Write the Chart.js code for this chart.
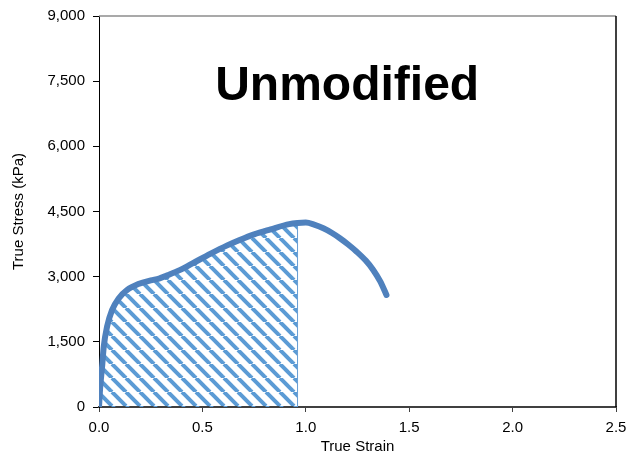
<!DOCTYPE html>
<html lang="en">
<head>
    <meta charset="UTF-8">
    <title>True Stress vs True Strain</title>
    <script src="https://cdn.jsdelivr.net/npm/chart.js"></script>
    <style>
        body { margin: 0; background: #fff; overflow: hidden; }
        canvas { display: block; }
    </style>
</head>
<body>
    <canvas id="myChart" width="627" height="458"></canvas>
    <script>
        // data
        const strain = [0, 0.006, 0.015, 0.023, 0.039, 0.063, 0.095, 0.135, 0.19, 0.25, 0.29, 0.33, 0.39, 0.45,
            0.54, 0.62, 0.68, 0.75, 0.83, 0.92, 0.96, 1.0, 1.04, 1.085, 1.125, 1.165, 1.205, 1.246, 1.29, 1.326, 1.36, 1.39];
        const stress = [0, 470, 930, 1390, 1850, 2230, 2500, 2690, 2830, 2915, 2955, 3030, 3150, 3300,
            3530, 3720, 3845, 3975, 4090, 4210, 4235, 4245, 4200, 4115, 4010, 3885, 3740, 3575, 3370, 3155, 2890, 2580];
        const hatchEnd = 0.96;
        const xTicks = [0, 0.5, 1.0, 1.5, 2.0, 2.5];
        const yTicks = [0, 1500, 3000, 4500, 6000, 7500, 9000];
        const titleText = 'Unmodified';

        const FONT = "'Liberation Sans', Arial, sans-serif";

        const curve = strain.map((s, i) => ({x: s, y: stress[i]}));
        const hatch = curve.filter(p => p.x <= hatchEnd);
        hatch.push({x: hatchEnd, y: 0});

        // diagonal stripes
        function makeHatch() {
            const n = 14;
            const c = document.createElement('canvas');
            c.width = n; c.height = n;
            const g = c.getContext('2d');
            g.strokeStyle = '#5B9BD5';
            g.lineWidth = 4;
            for (const k of [-n, 0, n]) {
                g.beginPath();
                g.moveTo(k, 0);
                g.lineTo(k + n, n);
                g.stroke();
            }
            return g.createPattern(c, 'repeat');
        }

        const frame = {
            id: 'frame',
            afterDatasetsDraw(chart) {
                const {ctx, chartArea: a} = chart;
                ctx.save();
                ctx.lineWidth = 1.5;
                ctx.strokeStyle = '#8c8c8c';
                ctx.beginPath();
                ctx.moveTo(a.left, a.top);
                ctx.lineTo(a.right, a.top);
                ctx.stroke();
                ctx.strokeStyle = '#000';
                ctx.beginPath();
                ctx.moveTo(a.right, a.top);
                ctx.lineTo(a.right, a.bottom);
                ctx.stroke();
                // big label inside the plot
                ctx.fillStyle = '#000';
                ctx.font = 'bold 48px ' + FONT;
                ctx.textAlign = 'center';
                ctx.textBaseline = 'alphabetic';
                ctx.fillText(titleText, chart.scales.x.getPixelForValue(1.2), chart.scales.y.getPixelForValue(7070));
                ctx.restore();
            }
        };

        const config = {
            type: 'scatter',
            data: {
                datasets: [
                    {
                        data: curve,
                        showLine: true,
                        borderColor: '#4F81BD',
                        borderWidth: 6,
                        pointRadius: 0,
                        cubicInterpolationMode: 'monotone',
                        borderCapStyle: 'round',
                        fill: false
                    },
                    {
                        data: hatch,
                        showLine: true,
                        borderColor: '#6A9FD4',
                        borderWidth: 1,
                        pointRadius: 0,
                        tension: 0,
                        fill: 'origin',
                        backgroundColor: makeHatch()
                    }
                ]
            },
            options: {
                responsive: false,
                animation: false,
                layout: { padding: { top: 16, right: 11, left: 0, bottom: 0 } },
                plugins: {
                    legend: { display: false },
                    tooltip: { enabled: false }
                },
                scales: {
                    x: {
                        type: 'linear',
                        min: 0,
                        max: 2.5,
                        afterBuildTicks: s => { s.ticks = xTicks.map(v => ({value: v})); },
                        afterFit: s => { s.height = 51; s.paddingLeft = 0; s.paddingRight = 0; },
                        ticks: {
                            color: '#000',
                            font: { family: FONT, size: 15 },
                            padding: 7,
                            callback: v => v.toFixed(1)
                        },
                        grid: { drawOnChartArea: false, color: '#404040', tickLength: 5 },
                        border: { color: '#404040', width: 2 },
                        title: {
                            display: true,
                            text: 'True Strain',
                            color: '#000',
                            font: { family: FONT, size: 15 },
                            padding: { top: 0, bottom: 2 }
                        }
                    },
                    y: {
                        type: 'linear',
                        min: 0,
                        max: 9000,
                        afterBuildTicks: s => { s.ticks = yTicks.map(v => ({value: v})); },
                        afterFit: s => { s.width = 99; s.paddingTop = 0; s.paddingBottom = 0; },
                        ticks: {
                            color: '#000',
                            font: { family: FONT, size: 15 },
                            padding: 8,
                            callback: v => v.toLocaleString('en-US')
                        },
                        grid: { drawOnChartArea: false, color: '#000', tickLength: 6 },
                        border: { color: '#000', width: 1 },
                        title: {
                            display: true,
                            text: 'True Stress (kPa)',
                            color: '#000',
                            font: { family: FONT, size: 15 },
                            padding: { top: 10, bottom: 0 }
                        }
                    }
                }
            },
            plugins: [frame]
        };

        window.onload = function() {
            const ctx = document.getElementById('myChart').getContext('2d');
            new Chart(ctx, config);
        };
    </script>
</body>
</html>
